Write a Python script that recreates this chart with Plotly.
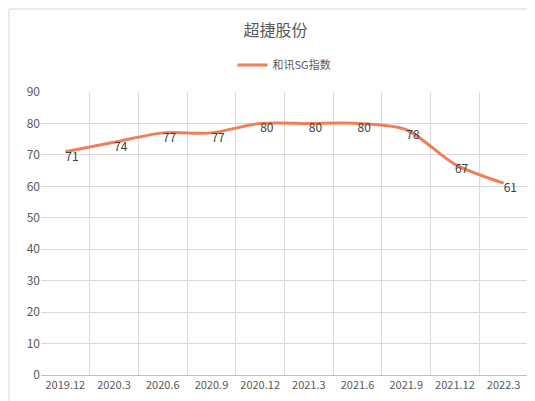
import plotly.graph_objects as go

categories = ["2019.12","2020.3","2020.6","2020.9","2020.12","2021.3","2021.6","2021.9","2021.12","2022.3"]
values = [71,74,77,77,80,80,80,78,67,61]
yticks = [0,10,20,30,40,50,60,70,80,90]

font = "Noto Sans CJK SC"
color = "#F07E57"

fig = go.Figure(go.Scatter(
    x=categories, y=values, mode="lines+text", name="和讯SG指数",
    line=dict(color=color, width=3, shape="spline", smoothing=0.8),
    text=[str(v) for v in values], textposition="bottom right",
    textfont=dict(family=font, size=12, color="#404040"),
))
fig.update_layout(
    width=535, height=401, paper_bgcolor="white", plot_bgcolor="white",
    margin=dict(l=33, r=15, t=84, b=34),
    title=dict(text="超捷股份", x=0.5, xanchor="center", y=1-22/401, yanchor="middle",
               font=dict(family=font, size=16, color="#595959")),
    showlegend=True,
    legend=dict(orientation="h", x=0.5, xanchor="center", y=1+27/283, yanchor="middle",
                font=dict(family=font, size=11, color="#595959")),
    font=dict(family=font, size=12, color="#595959"),
    xaxis=dict(type="category", tickson="boundaries", showgrid=True, gridcolor="#D9D9D9",
               showline=True, linecolor="#BFBFBF", ticks="", tickangle=0, automargin=False,
               tickfont=dict(size=11, color="#595959")),
    yaxis=dict(range=[0,90], tickvals=yticks, showgrid=True, gridcolor="#D9D9D9",
               zeroline=False, ticks="", automargin=False, tickfont=dict(size=12, color="#595959")),
    shapes=[dict(type="rect", xref="paper", yref="paper", x0=-32/487, x1=1+14/487,
                 y0=-33/283, y1=1+83/283, line=dict(color="#D9D9D9", width=1))],
)
fig.write_html("out.html")
